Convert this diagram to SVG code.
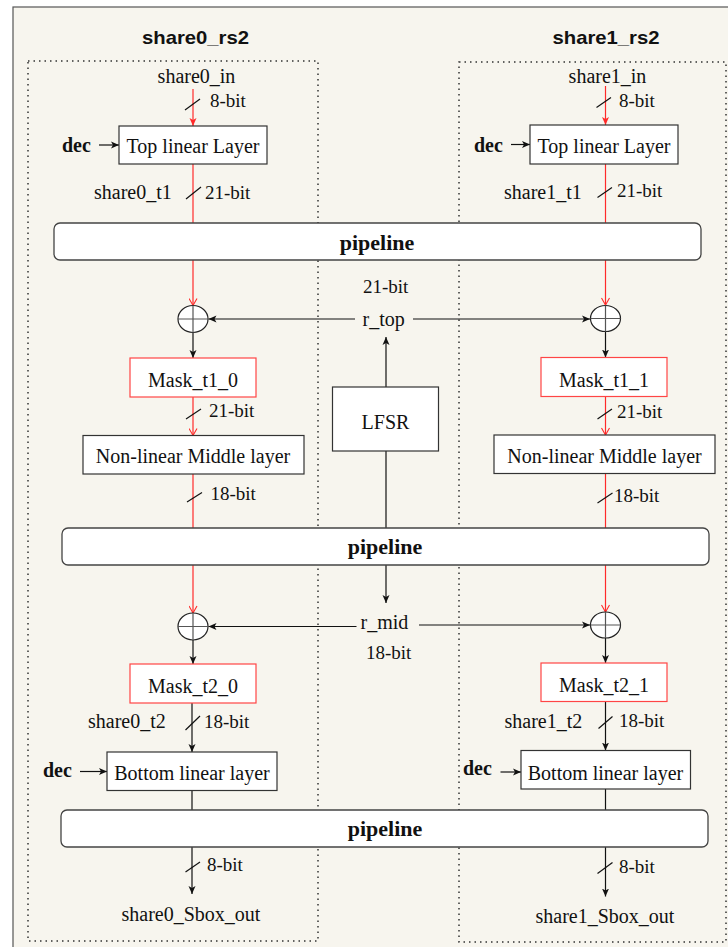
<svg xmlns="http://www.w3.org/2000/svg" width="728" height="947" viewBox="0 0 728 947">
  <defs>
    <marker id="ah" markerUnits="userSpaceOnUse" markerWidth="9" markerHeight="8" refX="8" refY="4" orient="auto">
      <path d="M0,0.5 L8,4 L0,7.5 L2,4 z" fill="#111"/>
    </marker>
    <marker id="ahRed" markerUnits="userSpaceOnUse" markerWidth="9" markerHeight="8" refX="8" refY="4" orient="auto">
      <path d="M0,0.5 L8,4 L0,7.5 L2,4 z" fill="#ff2a2a"/>
    </marker>
    <marker id="ahRedOpen" markerUnits="userSpaceOnUse" markerWidth="9" markerHeight="9" refX="8" refY="4.5" orient="auto">
      <path d="M1,0.5 L8,4.5 L1,8.5" fill="none" stroke="#ff2a2a" stroke-width="1.1"/>
    </marker>
  </defs>
  <style>
    .bg { fill: #f7f5ee; stroke: #555; stroke-width: 1.2; }
    .group { fill: none; stroke: #333; stroke-width: 1.5; stroke-dasharray: 1.5 4; }
    .box { fill: #fff; stroke: #333; stroke-width: 1.2; }
    .mask { fill: #fff; stroke: #ff4545; stroke-width: 1.2; }
    .pipe { fill: #fff; stroke: #444; stroke-width: 1.3; }
    .xor { fill: #fff; stroke: #222; stroke-width: 1.2; }
    .xorx { stroke: #555; stroke-width: 1.2; fill: none; }
    .w { fill: none; stroke: #111; stroke-width: 1.2; }
    .wr { fill: none; stroke: #ff2a2a; stroke-width: 1.2; }
    .sl { stroke: #111; stroke-width: 1.2; }
    .t { font-family: "Liberation Serif", "Times New Roman", serif; font-size: 20px; fill: #111; }
    .b { font-family: "Liberation Serif", "Times New Roman", serif; font-size: 19px; fill: #111; }
    .c { text-anchor: middle; }
    .bold { font-weight: bold; }
    .pl { font-family: "Liberation Serif", "Times New Roman", serif; font-size: 22px; font-weight: bold; fill: #111; text-anchor: middle; }
    .title { font-family: "Liberation Sans", Arial, sans-serif; font-size: 19px; font-weight: bold; fill: #111; text-anchor: middle; }
  </style>

  <!-- canvas -->
  <rect x="0" y="0" width="728" height="947" fill="#fff"/>
  <rect class="bg" x="13" y="7" width="730" height="950"/>

  <!-- share groups -->
  <g id="share0_rs2">
    <rect class="group" x="28" y="61" width="290" height="880"/>
    <text class="title" x="195.5" y="44" textLength="107" lengthAdjust="spacingAndGlyphs">share0_rs2</text>
  </g>
  <g id="share1_rs2">
    <rect class="group" x="459" y="62" width="267" height="880"/>
    <text class="title" x="606" y="43.5" textLength="107" lengthAdjust="spacingAndGlyphs">share1_rs2</text>
  </g>

  <!-- connectors -->
  <g id="connectors">
    <!-- share0 column -->
    <line class="wr" x1="193" y1="89" x2="193" y2="126" marker-end="url(#ahRed)"/>
    <line class="w" x1="99" y1="145" x2="119" y2="145" marker-end="url(#ah)"/>
    <line class="wr" x1="193" y1="164" x2="193" y2="223"/>
    <line class="wr" x1="193" y1="260" x2="193" y2="305.5" marker-end="url(#ahRedOpen)"/>
    <line class="w" x1="193" y1="332.5" x2="193" y2="358" marker-end="url(#ah)"/>
    <line class="wr" x1="193" y1="397" x2="193" y2="435.5" marker-end="url(#ahRedOpen)"/>
    <line class="wr" x1="193" y1="474" x2="193" y2="528"/>
    <line class="wr" x1="193" y1="565" x2="193" y2="613" marker-end="url(#ahRedOpen)"/>
    <line class="w" x1="193" y1="639.5" x2="193" y2="664" marker-end="url(#ah)"/>
    <line class="w" x1="192" y1="703" x2="192" y2="752" marker-end="url(#ah)"/>
    <line class="w" x1="80" y1="771.5" x2="107" y2="771.5" marker-end="url(#ah)"/>
    <line class="w" x1="192" y1="790.5" x2="192" y2="810"/>
    <line class="w" x1="192" y1="847" x2="192" y2="894" marker-end="url(#ah)"/>

    <!-- share1 column -->
    <line class="wr" x1="605.5" y1="86" x2="605.5" y2="125" marker-end="url(#ahRed)"/>
    <line class="w" x1="511" y1="144.5" x2="530" y2="144.5" marker-end="url(#ah)"/>
    <line class="wr" x1="605.5" y1="164" x2="605.5" y2="223"/>
    <line class="wr" x1="605.5" y1="260" x2="605.5" y2="305" marker-end="url(#ahRedOpen)"/>
    <line class="w" x1="605.5" y1="331.5" x2="605.5" y2="357.5" marker-end="url(#ah)"/>
    <line class="wr" x1="605.5" y1="396.5" x2="605.5" y2="435" marker-end="url(#ahRedOpen)"/>
    <line class="wr" x1="605.5" y1="473.5" x2="605.5" y2="528"/>
    <line class="wr" x1="605.5" y1="565" x2="605.5" y2="612" marker-end="url(#ahRedOpen)"/>
    <line class="w" x1="605.5" y1="638" x2="605.5" y2="663" marker-end="url(#ah)"/>
    <line class="w" x1="605.5" y1="701.5" x2="605.5" y2="750.5" marker-end="url(#ah)"/>
    <line class="w" x1="500.5" y1="772" x2="521" y2="772" marker-end="url(#ah)"/>
    <line class="w" x1="605.5" y1="789" x2="605.5" y2="810"/>
    <line class="w" x1="605.5" y1="847" x2="605.5" y2="896.5" marker-end="url(#ah)"/>

    <!-- random masks from LFSR -->
    <line class="w" x1="386" y1="387" x2="386" y2="337" marker-end="url(#ah)"/>
    <line class="w" x1="355" y1="319" x2="208.5" y2="319" marker-end="url(#ah)"/>
    <line class="w" x1="413" y1="319" x2="590" y2="319" marker-end="url(#ah)"/>
    <line class="w" x1="386" y1="451" x2="386" y2="528"/>
    <line class="w" x1="386" y1="565" x2="386" y2="603" marker-end="url(#ah)"/>
    <line class="w" x1="356.5" y1="626.5" x2="208.5" y2="626.5" marker-end="url(#ah)"/>
    <line class="w" x1="419" y1="625" x2="590" y2="625" marker-end="url(#ah)"/>

    <!-- bus-width ticks -->
    <line class="sl" x1="185" y1="110" x2="200" y2="99"/>
    <line class="sl" x1="186" y1="199" x2="201" y2="187"/>
    <line class="sl" x1="186" y1="419" x2="201" y2="409"/>
    <line class="sl" x1="187" y1="502" x2="202" y2="492.5"/>
    <line class="sl" x1="185.5" y1="730" x2="200" y2="716"/>
    <line class="sl" x1="185.5" y1="872" x2="200" y2="862"/>
    <line class="sl" x1="596.5" y1="107.5" x2="611" y2="97.5"/>
    <line class="sl" x1="597.5" y1="197.5" x2="612" y2="187.5"/>
    <line class="sl" x1="597.5" y1="419" x2="612" y2="409"/>
    <line class="sl" x1="597.5" y1="503" x2="612.5" y2="493"/>
    <line class="sl" x1="598.5" y1="728.5" x2="612.5" y2="716.5"/>
    <line class="sl" x1="597.5" y1="873.5" x2="612.5" y2="862.5"/>
  </g>

  <!-- pipeline registers -->
  <g id="pipeline1">
    <rect class="pipe" x="54" y="223" width="647" height="37" rx="6"/>
    <text class="pl" x="377" y="250">pipeline</text>
  </g>
  <g id="pipeline2">
    <rect class="pipe" x="62" y="528" width="647" height="37" rx="6"/>
    <text class="pl" x="385" y="554">pipeline</text>
  </g>
  <g id="pipeline3">
    <rect class="pipe" x="61" y="810" width="647" height="37" rx="6"/>
    <text class="pl" x="385" y="836">pipeline</text>
  </g>

  <!-- share0 nodes -->
  <g id="share0_in"><text class="t c" x="196.5" y="83">share0_in</text></g>
  <g id="share0_in_width"><text class="b" x="210" y="107">8-bit</text></g>
  <g id="dec0_top"><text class="t bold" x="62" y="152">dec</text></g>
  <g id="top_linear0">
    <rect class="box" x="119" y="126" width="148" height="38"/>
    <text class="t c" x="193" y="153">Top linear Layer</text>
  </g>
  <g id="share0_t1"><text class="t" x="94" y="199">share0_t1</text></g>
  <g id="share0_t1_width"><text class="b" x="205" y="199">21-bit</text></g>
  <g id="xor0_top">
    <ellipse class="xor" cx="193" cy="319" rx="15" ry="13.5"/>
    <path class="xorx" d="M178,319 H208 M193,305.5 V332.5"/>
  </g>
  <g id="mask_t1_0">
    <rect class="mask" x="130" y="358" width="126" height="39"/>
    <text class="t c" x="193" y="387">Mask_t1_0</text>
  </g>
  <g id="mask_t1_0_width"><text class="b" x="209" y="417">21-bit</text></g>
  <g id="middle0">
    <rect class="box" x="83" y="435.5" width="221" height="38.5"/>
    <text class="t c" x="193" y="463">Non-linear Middle layer</text>
  </g>
  <g id="middle0_width"><text class="b" x="210.5" y="500">18-bit</text></g>
  <g id="xor0_mid">
    <ellipse class="xor" cx="193" cy="626.5" rx="15" ry="13.5"/>
    <path class="xorx" d="M178,626.5 H208 M193,613 V640"/>
  </g>
  <g id="mask_t2_0">
    <rect class="mask" x="130" y="664" width="126" height="39"/>
    <text class="t c" x="193" y="693">Mask_t2_0</text>
  </g>
  <g id="share0_t2"><text class="t" x="88" y="728">share0_t2</text></g>
  <g id="share0_t2_width"><text class="b" x="204" y="728">18-bit</text></g>
  <g id="dec0_bottom"><text class="t bold" x="43" y="777">dec</text></g>
  <g id="bottom_linear0">
    <rect class="box" x="107" y="752" width="170" height="38.5"/>
    <text class="t c" x="192" y="780">Bottom linear layer</text>
  </g>
  <g id="out0_width"><text class="b" x="207" y="871">8-bit</text></g>
  <g id="share0_Sbox_out"><text class="t c" x="191" y="921">share0_Sbox_out</text></g>

  <!-- share1 nodes -->
  <g id="share1_in"><text class="t c" x="607.5" y="83">share1_in</text></g>
  <g id="share1_in_width"><text class="b" x="619" y="107">8-bit</text></g>
  <g id="dec1_top"><text class="t bold" x="474" y="151.5">dec</text></g>
  <g id="top_linear1">
    <rect class="box" x="530" y="125" width="148" height="39"/>
    <text class="t c" x="604" y="152.5">Top linear Layer</text>
  </g>
  <g id="share1_t1"><text class="t" x="504" y="199">share1_t1</text></g>
  <g id="share1_t1_width"><text class="b" x="617" y="197">21-bit</text></g>
  <g id="xor1_top">
    <ellipse class="xor" cx="605.5" cy="318.5" rx="15" ry="13"/>
    <path class="xorx" d="M590.5,318.5 H620.5 M605.5,305.5 V331.5"/>
  </g>
  <g id="mask_t1_1">
    <rect class="mask" x="541" y="357.5" width="126" height="39"/>
    <text class="t c" x="604" y="386.5">Mask_t1_1</text>
  </g>
  <g id="mask_t1_1_width"><text class="b" x="617" y="418">21-bit</text></g>
  <g id="middle1">
    <rect class="box" x="494" y="435" width="221" height="38.5"/>
    <text class="t c" x="604.5" y="463">Non-linear Middle layer</text>
  </g>
  <g id="middle1_width"><text class="b" x="614" y="501.5">18-bit</text></g>
  <g id="xor1_mid">
    <ellipse class="xor" cx="605.5" cy="625" rx="15" ry="13"/>
    <path class="xorx" d="M590.5,625 H620.5 M605.5,612 V638"/>
  </g>
  <g id="mask_t2_1">
    <rect class="mask" x="541" y="663" width="126" height="38.5"/>
    <text class="t c" x="604" y="691.5">Mask_t2_1</text>
  </g>
  <g id="share1_t2"><text class="t" x="504.5" y="728">share1_t2</text></g>
  <g id="share1_t2_width"><text class="b" x="619" y="726.5">18-bit</text></g>
  <g id="dec1_bottom"><text class="t bold" x="463" y="775">dec</text></g>
  <g id="bottom_linear1">
    <rect class="box" x="521" y="750.5" width="169.5" height="38.5"/>
    <text class="t c" x="605.5" y="780">Bottom linear layer</text>
  </g>
  <g id="out1_width"><text class="b" x="619" y="872.5">8-bit</text></g>
  <g id="share1_Sbox_out"><text class="t c" x="605" y="922.5">share1_Sbox_out</text></g>

  <!-- shared randomness -->
  <g id="lfsr">
    <rect class="box" x="332.5" y="387" width="106" height="64"/>
    <text class="t c" x="385.5" y="429">LFSR</text>
  </g>
  <g id="r_top">
    <text class="b" x="363" y="293">21-bit</text>
    <text class="t" x="362.5" y="326">r_top</text>
  </g>
  <g id="r_mid">
    <text class="t" x="360.5" y="629">r_mid</text>
    <text class="b" x="366" y="659">18-bit</text>
  </g>
</svg>
